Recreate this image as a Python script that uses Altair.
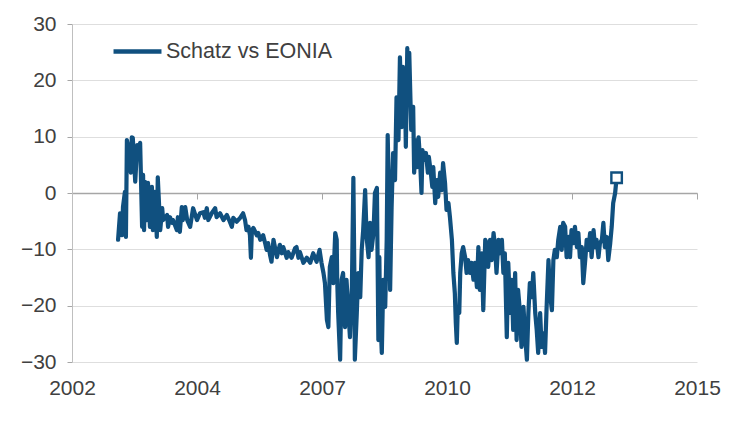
import altair as alt
import pandas as pd

SERIES = "Schatz vs EONIA"

# ---- data (fractional year, basis points) ----
years_2003_2004 = [2003.34, 2003.38, 2003.42, 2003.44, 2003.48, 2003.50, 2003.52, 2003.54, 2003.58, 2003.60,
                   2003.62, 2003.64, 2003.69, 2003.73, 2003.75, 2003.79, 2003.83, 2003.85, 2003.87, 2003.89,
                   2003.93, 2003.95, 2003.99, 2004.03, 2004.05, 2004.09, 2004.13, 2004.15, 2004.20, 2004.24,
                   2004.26, 2004.34, 2004.36, 2004.40, 2004.44, 2004.46, 2004.54, 2004.56, 2004.60, 2004.64,
                   2004.66, 2004.71, 2004.75, 2004.81, 2004.87, 2004.95, 2005.01]
values_2003_2004 = [-8.3, -3.6, -7.5, -2.5, 0.2, -7.8, 9.4, 8.5, 8.5, 3.6,
                    9.9, 9.8, 2.0, 8.5, 7.1, 8.9, -6.0, 3.2, -6.6, 2.0,
                    -4.8, 1.8, -6.0, 1.1, -6.6, 0.2, -7.8, 2.8, -6.6, -2.7,
                    -4.8, -3.9, -6.0, -4.3, -5.3, -4.8, -6.6, -4.3, -6.9, -2.5,
                    -4.8, -2.5, -4.8, -6.0, -2.7, -4.8, -3.6]

years_2005_2007 = [2005.08, 2005.11, 2005.15, 2005.18, 2005.25, 2005.32, 2005.35, 2005.42, 2005.49, 2005.56,
                   2005.62, 2005.66, 2005.69, 2005.76, 2005.83, 2005.89, 2005.93, 2005.96, 2006.00, 2006.03,
                   2006.05, 2006.07, 2006.10, 2006.17, 2006.20, 2006.24, 2006.30, 2006.34, 2006.37, 2006.40,
                   2006.44, 2006.47, 2006.51, 2006.54, 2006.58, 2006.64, 2006.68, 2006.71, 2006.78, 2006.81,
                   2006.88, 2006.95, 2006.98, 2007.02, 2007.05, 2007.12, 2007.19, 2007.26, 2007.32, 2007.39,
                   2007.45]
values_2005_2007 = [-3.4, -4.4, -2.7, -4.8, -3.6, -2.7, -4.3, -3.6, -4.8, -3.9,
                    -5.1, -6.0, -4.4, -5.1, -4.4, -3.6, -4.8, -6.6, -6.0, -7.5,
                    -11.5, -6.6, -6.2, -7.5, -7.1, -8.3, -7.5, -8.9, -10.1, -8.9,
                    -11.0, -12.2, -8.3, -9.6, -11.4, -9.2, -10.7, -9.6, -11.5, -10.5,
                    -11.5, -9.8, -9.6, -11.5, -10.5, -12.4, -11.5, -12.4, -10.7, -12.2,
                    -10.1]

years_2007_2008 = [2007.49, 2007.53, 2007.56, 2007.60, 2007.63, 2007.66, 2007.70, 2007.73, 2007.77, 2007.80,
                   2007.81, 2007.83, 2007.87, 2007.90, 2007.93, 2007.97, 2008.00, 2008.04, 2008.07, 2008.11,
                   2008.14, 2008.16, 2008.17, 2008.21, 2008.24, 2008.28, 2008.31, 2008.34, 2008.38, 2008.41,
                   2008.45, 2008.48, 2008.51, 2008.55, 2008.58, 2008.62, 2008.65, 2008.67, 2008.68, 2008.72,
                   2008.75]
values_2007_2008 = [-12.4, -14.2, -16.0, -22.5, -23.8, -13.1, -11.4, -16.0, -7.1, -8.3,
                    -15.4, -21.3, -29.6, -15.4, -14.2, -23.8, -15.4, -21.3, -25.6, -16.7,
                    2.7, -14.2, -29.6, -21.3, -14.2, -18.5, -10.1, -6.6, 0.5, -7.8,
                    -11.4, -5.3, -10.1, -7.1, 0.0, 0.9, -26.1, -11.4, -19.5, -28.4,
                    -15.4]

years_2008_2010 = [2008.79, 2008.82, 2008.84, 2008.87, 2008.89, 2008.92, 2008.95, 2008.99, 2009.02, 2009.06,
                   2009.09, 2009.13, 2009.15, 2009.16, 2009.19, 2009.21, 2009.24, 2009.26, 2009.28, 2009.32,
                   2009.36, 2009.38, 2009.41, 2009.44, 2009.47, 2009.50, 2009.53, 2009.55, 2009.59, 2009.62,
                   2009.66, 2009.68, 2009.72, 2009.75, 2009.77, 2009.81, 2009.84, 2009.87, 2009.91, 2009.94,
                   2009.97, 2010.01, 2010.04, 2010.08, 2010.11, 2010.15, 2010.18, 2010.21, 2010.23, 2010.25,
                   2010.27, 2010.30, 2010.32, 2010.35, 2010.38]
values_2008_2010 = [-20.2, -8.3, 10.3, -2.5, -17.2, -2.5, 7.1, 2.3, 17.0, 9.4,
                    24.1, 11.7, 22.4, 13.0, 21.3, 8.2, 25.7, 16.5, 24.9, 11.2,
                    15.3, 3.6, 9.4, 4.6, 9.9, 5.9, 0.0, 7.6, 5.9, 7.1,
                    3.6, 6.4, 3.6, 1.1, 4.6, -1.8, 2.3, -0.7, 3.6, 0.5,
                    5.3, 1.8, -3.0, -1.8, -4.3, -8.3, -14.2, -17.8, -23.1, -26.6,
                    -20.2, -21.3, -14.2, -10.7, -9.6]

years_2010_2011 = [2010.42, 2010.45, 2010.48, 2010.52, 2010.55, 2010.59, 2010.62, 2010.66, 2010.69, 2010.72,
                   2010.76, 2010.79, 2010.83, 2010.86, 2010.89, 2010.93, 2010.96, 2011.00, 2011.03, 2011.06,
                   2011.10, 2011.13, 2011.17, 2011.20, 2011.23, 2011.27, 2011.30, 2011.34, 2011.37, 2011.40,
                   2011.44, 2011.47, 2011.50, 2011.54, 2011.57, 2011.61, 2011.64, 2011.68, 2011.71, 2011.74,
                   2011.78, 2011.81, 2011.85, 2011.88, 2011.91]
values_2010_2011 = [-11.4, -14.2, -11.9, -14.2, -12.4, -15.4, -12.4, -16.7, -9.6, -17.2,
                    -10.7, -20.8, -8.3, -8.9, -13.1, -8.3, -11.9, -7.1, -9.6, -14.2,
                    -8.3, -10.7, -8.3, -14.2, -10.7, -25.6, -12.4, -21.3, -15.4, -24.3,
                    -14.2, -26.1, -17.2, -21.3, -27.3, -20.2, -24.9, -29.6, -21.3, -16.0,
                    -18.5, -14.2, -21.3, -24.3, -28.4]

years_2012_2013 = [2011.95, 2011.98, 2012.02, 2012.05, 2012.08, 2012.12, 2012.15, 2012.19, 2012.22, 2012.25,
                   2012.29, 2012.32, 2012.36, 2012.39, 2012.42, 2012.46, 2012.49, 2012.53, 2012.56, 2012.59,
                   2012.63, 2012.66, 2012.70, 2012.73, 2012.76, 2012.80, 2012.83, 2012.87, 2012.90, 2012.93,
                   2012.97, 2013.00, 2013.04, 2013.07, 2013.10, 2013.14, 2013.17, 2013.21, 2013.24, 2013.27,
                   2013.31, 2013.34, 2013.38, 2013.41, 2013.44, 2013.48, 2013.51]
values_2012_2013 = [-21.3, -27.3, -24.9, -28.4, -20.8, -11.9, -17.8, -20.8, -11.9, -10.1,
                    -11.4, -8.3, -6.0, -10.1, -5.3, -6.0, -11.4, -7.8, -11.4, -6.6,
                    -8.9, -6.0, -9.6, -7.1, -11.4, -9.6, -16.0, -11.9, -8.3, -10.1,
                    -7.1, -11.4, -6.6, -9.6, -8.3, -11.4, -8.9, -8.3, -5.3, -9.6,
                    -7.8, -11.9, -8.9, -6.0, -1.8, 0.0, 2.7]

# axis ticks (Excel-style evenly spaced date ticks, labelled with the year)
x_ticks = [2002.4, 2004.95, 2007.5, 2010.05, 2012.6, 2015.15]
y_ticks = [-30, -20, -10, 0, 10, 20, 30]

years = (years_2003_2004 + years_2005_2007 + years_2007_2008 +
         years_2008_2010 + years_2010_2011 + years_2012_2013)
values = (values_2003_2004 + values_2005_2007 + values_2007_2008 +
          values_2008_2010 + values_2010_2011 + values_2012_2013)

df = pd.DataFrame({"year": years, "value": values, "series": SERIES})
end_df = df.iloc[[-1]]

BLUE = "#10507f"
TXT = "#404040"
AXIS_GRAY = "#a6a6a6"
GRID = "#dedede"
FONT = "Liberation Sans"
FS = 21
W, H = 625, 338

x_scale = alt.Scale(domain=[x_ticks[0], x_ticks[-1]], nice=False, zero=False)
y_scale = alt.Scale(domain=[y_ticks[0], y_ticks[-1]], nice=False)

x_axis = alt.Axis(values=x_ticks, labelExpr="format(floor(datum.value), 'd')",
                  orient="bottom", offset=-H / 2, labelPadding=178, tickSize=6,
                  tickColor=AXIS_GRAY, domainColor=AXIS_GRAY, domainWidth=1.3,
                  grid=False, title=None, labelFont=FONT, labelFontSize=FS,
                  labelColor=TXT, labelFlush=False)
y_axis = alt.Axis(values=y_ticks, tickSize=5, tickColor=AXIS_GRAY, domainColor="#bfbfbf",
                  grid=True, gridColor=GRID, gridWidth=1, labelPadding=11, title=None,
                  labelFont=FONT, labelFontSize=FS, labelColor=TXT)

line = alt.Chart(df).mark_line(strokeWidth=4.2, strokeJoin="round", strokeCap="round").encode(
    x=alt.X("year:Q", scale=x_scale, axis=x_axis),
    y=alt.Y("value:Q", scale=y_scale, axis=y_axis),
    color=alt.Color("series:N",
                    scale=alt.Scale(domain=[SERIES], range=[BLUE]),
                    legend=alt.Legend(title=None, orient="none", legendX=39, legendY=1,
                                      symbolType="stroke", symbolSize=2300,
                                      symbolStrokeWidth=4.5, labelFont=FONT,
                                      labelFontSize=21.5, labelColor=TXT, labelOffset=2,
                                      labelLimit=400, padding=0)),
)

end_point = alt.Chart(end_df).mark_point(shape="square", filled=True, fill="white",
                                         stroke=BLUE, strokeWidth=2.4, size=110,
                                         opacity=1).encode(
    x=alt.X("year:Q", scale=x_scale),
    y=alt.Y("value:Q", scale=y_scale),
)

chart = alt.layer(line, end_point).properties(
    width=W, height=H,
    autosize=alt.AutoSizeParams(type="none"),
    padding={"left": 64, "top": 16, "right": 40, "bottom": 60},
    background="white",
).configure_view(stroke=None)

chart.save("out.html", embed_options={"renderer": "svg", "actions": False})
